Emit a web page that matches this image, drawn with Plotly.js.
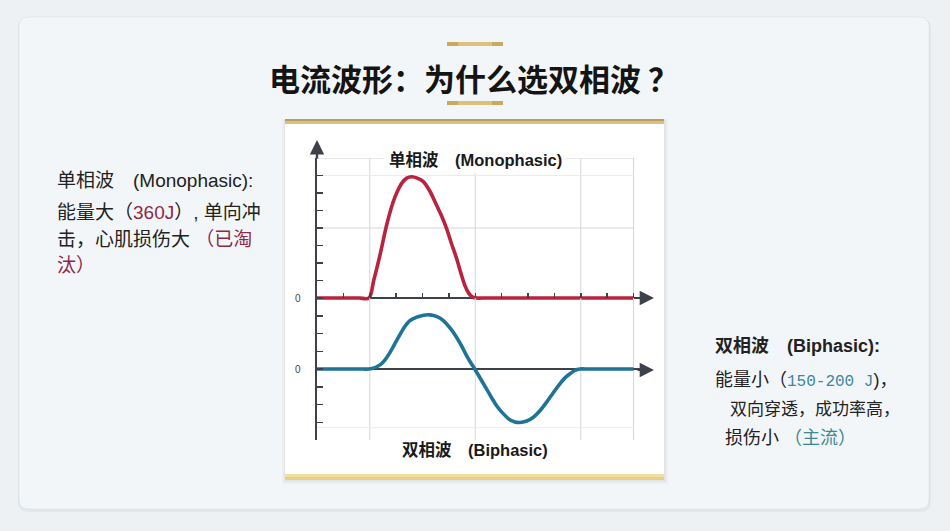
<!DOCTYPE html>
<html><head><meta charset="utf-8">
<script src="https://cdn.plot.ly/plotly-3.0.1.min.js"></script>
<style>html,body{margin:0;padding:0;background:#edf1f4;}#chart{width:950px;height:531px;}</style>
</head><body><div id="chart"></div>
<script>
// ---- data ----
const monoX = [0, 1, 1.6, 1.97, 2.15, 2.39, 2.64, 2.89, 3.05, 3.21, 3.4, 3.59, 3.8, 4.03, 4.28, 4.53, 4.72, 4.91, 5.1, 5.29, 5.45, 5.6, 5.75, 5.9, 6.05, 6.4, 7, 12];
const monoY = [0, 0, 0, 0, 1.0, 2.46, 4.17, 5.5, 6.1, 6.55, 6.85, 6.93, 6.85, 6.65, 6.1, 5.31, 4.7, 3.98, 3.1, 2.27, 1.45, 0.74, 0.28, 0.05, 0, 0, 0, 0];
const biX = [0, 1, 1.6, 1.97, 2.2, 2.39, 2.58, 2.77, 3.0, 3.27, 3.5, 3.78, 4.0, 4.28, 4.55, 4.79, 5.05, 5.29, 5.5, 5.67, 5.83, 5.98, 6.2, 6.43, 6.62, 6.81, 7.05, 7.31, 7.5, 7.69, 7.95, 8.19, 8.45, 8.70, 8.95, 9.2, 9.4, 9.58, 9.78, 9.96, 10.3, 11, 12];
const biY = [0, 0, 0, 0, 0.08, 0.23, 0.52, 0.94, 1.55, 2.26, 2.7, 2.92, 3.02, 3.05, 2.95, 2.73, 2.3, 1.79, 1.25, 0.75, 0.35, 0, -0.55, -1.13, -1.62, -2.07, -2.5, -2.86, -2.98, -3.01, -2.93, -2.73, -2.35, -1.88, -1.35, -0.85, -0.5, -0.28, -0.08, 0, 0, 0, 0];
const xTicks = [1,2,3,4,5,6,7,8,9,10,11,12];
const gridX = [2, 6, 10, 12];
const monoTicks = [0,1,2,3,4,5,6,7,8];
const biTicks = [-4,-3,-2,-1,0,1,2,3,4];
const monoGridY = [8, 4];
const monoFaintY = [7];
const biFaintY = [-3.3];
const zeroLabel = '0';
const titleText = '电流波形：为什么选双相波 ？';
const monoLabel = '单相波\u3000(Monophasic)';
const biLabel = '双相波\u3000(Biphasic)';
const leftLines = [
  '单相波\u3000(Monophasic):',
  '能量大（<span style="color:#8c2a4a">360J</span>）, 单向冲',
  '击，心肌损伤大 <span style="color:#8c2a4a">（已淘</span>',
  '<span style="color:#8c2a4a">汰）</span>'
];
const rightLines = [
  '<b>双相波\u3000(Biphasic):</b>',
  '能量小（<span style="color:#3d87a0;font-family:Liberation Mono;font-size:16px">150-200 J</span>)，',
  '双向穿透，成功率高，',
  '损伤小 <span style="color:#3b8a90">（主流）</span>'
];

// ---- layout helpers (pixel -> paper) ----
const W = 950, H = 531;
const px = x => x / W, py = y => 1 - y / H;
function rrect(x0, y0, x1, y1, r) {
  const a = px(x0), b = px(x1), c = py(y0), d = py(y1), rx = r / W, ry = r / H;
  return `M${a+rx},${c} L${b-rx},${c} Q${b},${c} ${b},${c-ry} L${b},${d+ry} Q${b},${d} ${b-rx},${d} L${a+rx},${d} Q${a},${d} ${a},${d+ry} L${a},${c-ry} Q${a},${c} ${a+rx},${c} Z`;
}
function prect(x0, y0, x1, y1, color) {
  return {type:'rect', xref:'paper', yref:'paper', x0:px(x0), x1:px(x1), y0:py(y1), y1:py(y0),
          fillcolor:color, line:{width:0}, layer:'below'};
}
const AX = '#3d4149';
const FONT = 'Liberation Sans, Noto Sans CJK SC, sans-serif';

const shapes = [];
shapes.push({type:'path', xref:'paper', yref:'paper', path:rrect(18, 18, 931, 512, 11), fillcolor:'rgba(140,150,160,0.10)', line:{width:0}, layer:'below'});
shapes.push({type:'path', xref:'paper', yref:'paper', path:rrect(19, 17, 929, 509, 10), fillcolor:'#f3f6f8', line:{color:'rgba(200,208,215,0.5)', width:0.6}, layer:'below'});
shapes.push(prect(447, 42, 503, 46, '#c8a95f'));
shapes.push(prect(458, 42, 492, 46, '#dcc17c'));
shapes.push(prect(447, 101, 503, 105, '#c8a95f'));
shapes.push(prect(458, 101, 492, 105, '#dcc17c'));
shapes.push(prect(282, 119, 668, 484, 'rgba(150,150,150,0.08)'));
shapes.push(prect(284, 120, 666, 482, 'rgba(150,150,150,0.10)'));
shapes.push(prect(285, 120, 664, 479, '#ffffff'));
shapes.push(prect(285, 119, 664, 121, '#bc9c58'));
shapes.push(prect(285, 121, 664, 124, '#d8c186'));
shapes.push(prect(285, 474, 664, 477, '#f2df9f'));
shapes.push(prect(285, 477, 664, 480, '#e6cf88'));
gridX.forEach(g => {
  shapes.push({type:'line', xref:'x', yref:'y', x0:g, x1:g, y0:0, y1:8, line:{color:'#d6d6d6', width:1}, layer:'below'});
  shapes.push({type:'line', xref:'x', yref:'y2', x0:g, x1:g, y0:-4, y1:4, line:{color:'#d6d6d6', width:1}, layer:'below'});
});
monoGridY.forEach(g => shapes.push({type:'line', xref:'x', yref:'y', x0:0, x1:12, y0:g, y1:g, line:{color:'#d6d6d6', width:1}, layer:'below'}));
monoFaintY.forEach(g => shapes.push({type:'line', xref:'x', yref:'y', x0:0, x1:12, y0:g, y1:g, line:{color:'#ececec', width:1}, layer:'below'}));
biFaintY.forEach(g => shapes.push({type:'line', xref:'x', yref:'y2', x0:0, x1:12, y0:g, y1:g, line:{color:'#ededed', width:1}, layer:'below'}));
shapes.push({type:'line', xref:'x', yref:'y', x0:0, x1:12.3, y0:0, y1:0, line:{color:AX, width:2.2}, layer:'below'});
shapes.push({type:'line', xref:'x', yref:'y2', x0:0, x1:12.3, y0:0, y1:0, line:{color:AX, width:2.2}, layer:'below'});

const annotations = [];
annotations.push({xref:'paper', yref:'paper', x:px(317), y:py(140), ax:0, ay:20, text:'', showarrow:true, arrowhead:2, arrowsize:1.2, arrowwidth:2.4, arrowcolor:AX});
annotations.push({xref:'paper', yref:'paper', x:px(654), y:py(298), ax:-18, ay:0, text:'', showarrow:true, arrowhead:2, arrowsize:1.3, arrowwidth:2.2, arrowcolor:AX});
annotations.push({xref:'paper', yref:'paper', x:px(654), y:py(370), ax:-18, ay:0, text:'', showarrow:true, arrowhead:2, arrowsize:1.3, arrowwidth:2.2, arrowcolor:AX});
annotations.push({xref:'paper', yref:'paper', x:px(474), y:py(78), xanchor:'center', yanchor:'middle', showarrow:false,
  text:'<b>' + titleText + '</b>', font:{family:'Noto Sans CJK SC, sans-serif', size:31, color:'#141414'}});
annotations.push({xref:'paper', yref:'paper', x:px(475), y:py(160), xanchor:'center', yanchor:'middle', showarrow:false,
  text:'<b>' + monoLabel + '</b>', bgcolor:'#ffffff', borderpad:4, font:{family:FONT, size:16.5, color:'#1a1a1a'}});
annotations.push({xref:'paper', yref:'paper', x:px(475), y:py(450), xanchor:'center', yanchor:'middle', showarrow:false,
  text:'<b>' + biLabel + '</b>', font:{family:FONT, size:16.5, color:'#1a1a1a'}});
const leftY = [180, 213, 239, 265];
leftLines.forEach((t, i) => annotations.push({xref:'paper', yref:'paper', x:px(55), y:py(leftY[i]), xanchor:'left', yanchor:'middle', showarrow:false,
  text:t, font:{family:FONT, size:19, color:'#222222'}}));
const rightX = [713, 713, 728, 723];
const rightY = [346, 380, 409, 438];
const rightSize = [18, 18, 17, 18];
rightLines.forEach((t, i) => annotations.push({xref:'paper', yref:'paper', x:px(rightX[i]), y:py(rightY[i]), xanchor:'left', yanchor:'middle', showarrow:false,
  text:t, font:{family:FONT, size:rightSize[i], color:'#222222'}}));

const traces = [
  {x:monoX, y:monoY, xaxis:'x', yaxis:'y', type:'scatter', mode:'lines', line:{color:'#b8243f', width:3.6, shape:'spline', smoothing:0.9}, hoverinfo:'skip'},
  {x:biX, y:biY, xaxis:'x', yaxis:'y2', type:'scatter', mode:'lines', line:{color:'#1e7396', width:3.6, shape:'spline', smoothing:0.9}, hoverinfo:'skip'}
];

const yCommon = {showline:true, linecolor:AX, linewidth:2.5, ticks:'inside', ticklen:6, tickwidth:1.5, tickcolor:AX,
  showgrid:false, zeroline:false, fixedrange:true, ticklabelstandoff:12, tickfont:{family:'Liberation Sans', size:10, color:'#444'}};
const PXU = 17.5;
const layout = {
  width:W, height:H, margin:{l:0, r:0, t:0, b:0},
  paper_bgcolor:'#edf1f4', plot_bgcolor:'rgba(0,0,0,0)', showlegend:false,
  xaxis:{domain:[px(317), px(652)], range:[0, 12.7], anchor:'free', position:py(298), showline:false, showgrid:false, zeroline:false,
    tickvals:xTicks, ticks:'inside', ticklen:5, tickwidth:1.5, tickcolor:AX, showticklabels:false, fixedrange:true},
  yaxis:Object.assign({}, yCommon, {domain:[py(298 + 0.4 * PXU), py(158)], range:[-0.4, 8], anchor:'x',
    tickvals:monoTicks, ticktext:monoTicks.map(v => v === 0 ? zeroLabel : '')}),
  yaxis2:Object.assign({}, yCommon, {domain:[py(440), py(298)], range:[-4, 4], anchor:'x',
    tickvals:biTicks, ticktext:biTicks.map(v => v === 0 ? zeroLabel : '')}),
  shapes:shapes, annotations:annotations
};
Plotly.newPlot('chart', traces, layout, {displayModeBar:false, staticPlot:true});
</script></body></html>
